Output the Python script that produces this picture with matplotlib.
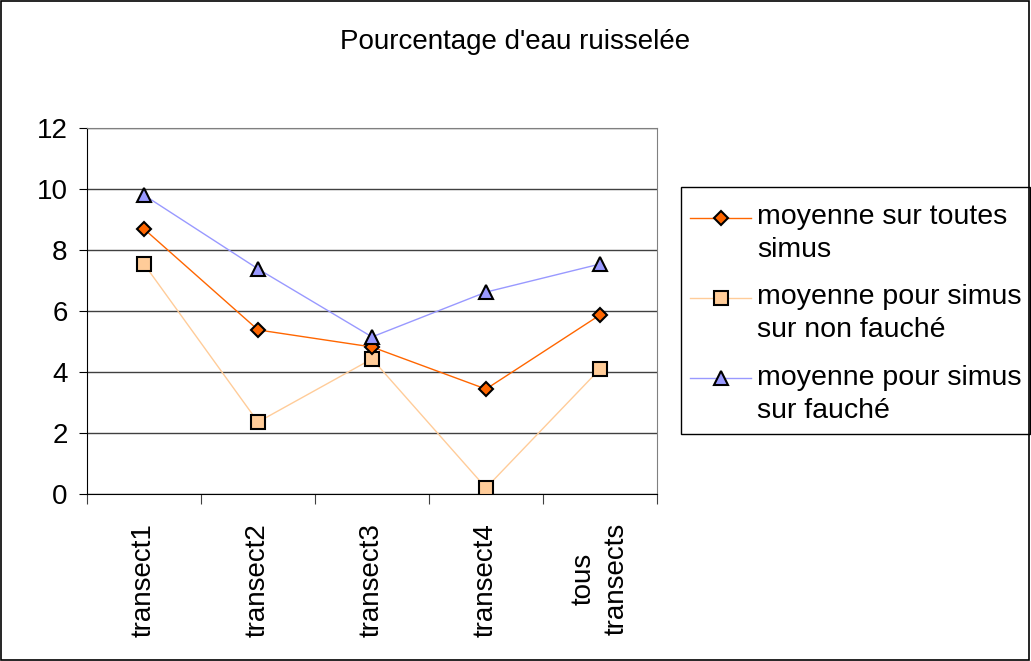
import matplotlib.pyplot as plt
from matplotlib.legend_handler import HandlerLine2D

plt.rcParams['font.family'] = ['Liberation Sans', 'DejaVu Sans']

categories = ["transect1", "transect2", "transect3", "transect4", "tous\ntransects"]
toutes = [8.69, 5.38, 4.82, 3.44, 5.87]
non_fauche = [7.54, 2.36, 4.43, 0.2, 4.10]
fauche = [9.8, 7.38, 5.15, 6.62, 7.54]


class FirstLineHandler(HandlerLine2D):
    # put the legend symbol next to the first line of a two-line label
    def create_artists(self, legend, orig_handle, xdescent, ydescent, width, height, fontsize, trans):
        arts = super().create_artists(legend, orig_handle, xdescent, ydescent, width, height,
                                      fontsize, trans)
        for a in arts:
            a.set_ydata([y + 0.56 * fontsize for y in a.get_ydata()])
        return arts


W, H = 1031, 661
fig = plt.figure(figsize=(W / 100, H / 100), dpi=100)
# outer border of the chart
fig.patches.append(plt.Rectangle((0.001, 0.002), 0.997, 0.996, transform=fig.transFigure,
                                 fill=False, edgecolor='black', linewidth=1.2))
# legend box
fig.patches.append(plt.Rectangle((681 / W, 1 - 434 / H), 349 / W, 247 / H, transform=fig.transFigure,
                                 fill=False, edgecolor='black', linewidth=1))
ax = fig.add_axes([87 / W, 1 - 494 / H, 570 / W, 366 / H])

x = list(range(len(categories)))
ax.plot(x, toutes, color='#FF6600', lw=1, marker='D', ms=7, mfc='#FF6600', mec='black', mew=1.5,
        label="moyenne sur toutes\nsimus", zorder=4)
ax.plot(x, non_fauche, color='#FFCC99', lw=1, marker='s', ms=10, mfc='#FFCC99', mec='black', mew=1.5,
        label="moyenne pour simus\nsur non fauché", zorder=3)
ax.plot(x, fauche, color='#9999FF', lw=1, marker='^', ms=10, mfc='#9999FF', mec='black', mew=1.5,
        label="moyenne pour simus\nsur fauché", zorder=5)

ax.set_xlim(-0.5, len(categories) - 0.5)
ax.set_ylim(0, 12)
ax.set_yticks([0, 2, 4, 6, 8, 10, 12])
ax.yaxis.grid(True, color='#404040', lw=1)
ax.set_axisbelow(True)
ax.set_xticks([i - 0.5 for i in range(len(categories) + 1)])
ax.set_xticklabels([])
ax.set_xticks(x, minor=True)
ax.set_xticklabels(categories, minor=True, rotation=90, fontsize=20, ha='center', va='top',
                   multialignment='center', linespacing=1.35)
ax.tick_params(axis='x', which='minor', length=0, pad=21)
ax.tick_params(axis='x', which='major', length=7, color='#404040', direction='out')
ax.tick_params(axis='y', length=6, direction='out', labelsize=20, pad=8)
for s in ['top', 'right']:
    ax.spines[s].set_color('#808080')
ax.spines['left'].set_color('black')
ax.spines['bottom'].set_color('black')

fig.text(0.5, 1 - 42 / H, "Pourcentage d'eau ruisselée", ha='center', va='center', fontsize=20)

leg = fig.legend(loc='upper left', bbox_to_anchor=(690 / W, 1 - 204 / H), fontsize=20.5,
                 frameon=False, handlelength=2.15, labelspacing=0.75, borderpad=0,
                 handletextpad=0.2, borderaxespad=0,
                 handler_map={plt.Line2D: FirstLineHandler()})
for t in leg.get_texts():
    t.set_linespacing(1.35)

fig.savefig("out.png", dpi=100)
